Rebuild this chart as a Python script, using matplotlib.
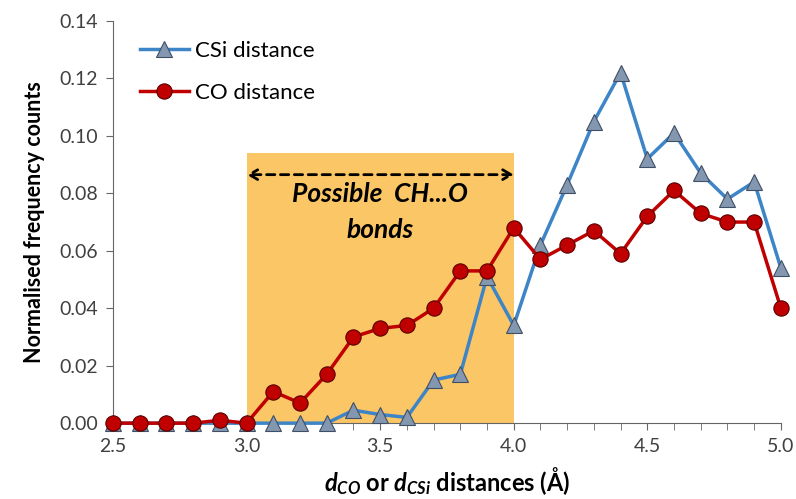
import numpy as np
import matplotlib.pyplot as plt
from matplotlib.ticker import MultipleLocator

plt.rcParams['font.family'] = ['Lato', 'DejaVu Sans']
plt.rcParams['mathtext.fontset'] = 'custom'
plt.rcParams['mathtext.it'] = 'Lato:italic:bold'
plt.rcParams['mathtext.rm'] = 'Lato:bold'

# data
dist = [2.5, 2.6, 2.7, 2.8, 2.9, 3.0, 3.1, 3.2, 3.3, 3.4, 3.5, 3.6, 3.7,
        3.8, 3.9, 4.0, 4.1, 4.2, 4.3, 4.4, 4.5, 4.6, 4.7, 4.8, 4.9, 5.0]
csi = [0, 0, 0, 0, 0, 0, 0, 0, 0, 0.0045, 0.003, 0.002, 0.015,
       0.017, 0.051, 0.034, 0.062, 0.083, 0.105, 0.122, 0.092, 0.101, 0.087, 0.078, 0.084, 0.054]
co = [0, 0, 0, 0, 0.001, 0, 0.011, 0.007, 0.017, 0.030, 0.033, 0.034, 0.040,
      0.053, 0.053, 0.068, 0.057, 0.062, 0.067, 0.059, 0.072, 0.081, 0.073, 0.070, 0.070, 0.040]

band = (3.0, 4.0)
band_top = 0.094

fig = plt.figure(figsize=(7.96, 4.99), dpi=100)
ax = fig.add_axes([0.142, 0.152, 0.839, 0.806])

# shaded region
ax.fill_between(band, 0, band_top, color='#FBC665', zorder=0, linewidth=0)
ax.annotate('', xy=(band[0], 0.0865), xytext=(band[1], 0.0865),
            arrowprops=dict(arrowstyle='<->,head_length=0.6,head_width=0.35',
                            linestyle=(0, (3, 2)), lw=2,
                            color='black', shrinkA=0, shrinkB=0))
ax.text(3.5, 0.0735, 'Possible  CH...O\nbonds', ha='center', va='center',
        fontsize=19, fontweight='bold', fontstyle='italic', linespacing=1.6)

ax.plot(dist, csi, '-^', color='#3D85C6', lw=2.5, ms=11,
        mfc='#8497B0', mec='#3F4F66', mew=0.8, label='CSi distance', zorder=3,
        clip_on=False)
ax.plot(dist, co, '-o', color='#C00000', lw=2.5, ms=11,
        mfc='#C00000', mec='#5A0000', mew=0.8, label='CO distance', zorder=4,
        clip_on=False)

ax.set_xlim(2.5, 5.0)
ax.set_ylim(0, 0.14)
ax.xaxis.set_major_locator(MultipleLocator(0.5))
ax.xaxis.set_minor_locator(MultipleLocator(0.1))
ax.yaxis.set_major_locator(MultipleLocator(0.02))
ax.xaxis.set_major_formatter(plt.FormatStrFormatter('%.1f'))
ax.yaxis.set_major_formatter(plt.FormatStrFormatter('%.2f'))
ax.tick_params(axis='both', which='both', direction='out', labelsize=14,
               color='#666666', labelcolor='#404040', pad=6)
ax.tick_params(which='major', length=5)
ax.tick_params(which='minor', length=5)
for s in ['top', 'right']:
    ax.spines[s].set_visible(False)
for s in ['left', 'bottom']:
    ax.spines[s].set_color('#666666')

ax.set_ylabel('Normalised frequency counts', fontsize=15.5, fontweight='bold', labelpad=10)
ax.set_xlabel(r'$d_{CO}$ or $d_{CSi}$ distances (Å)', fontsize=17, fontweight='bold', labelpad=7)

ax.legend(loc='upper left', bbox_to_anchor=(0.01, 1.0), frameon=False, fontsize=16,
          handlelength=2.2, handletextpad=0.3, labelspacing=1.0)

plt.savefig('out.png', dpi=100)
